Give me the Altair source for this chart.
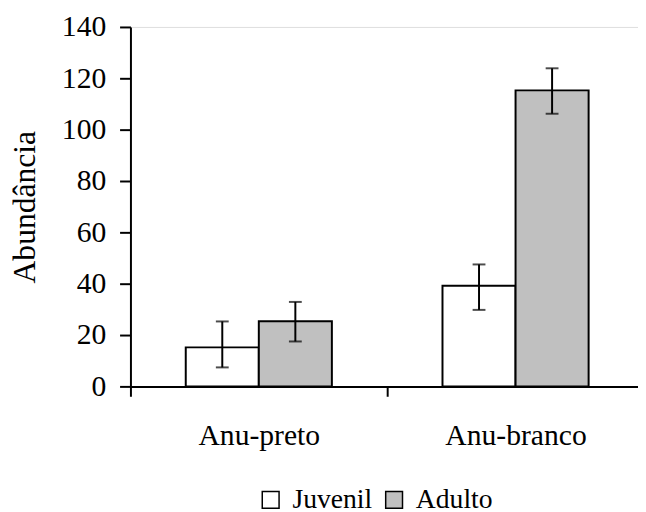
import altair as alt
import pandas as pd

especies = ["Anu-preto", "Anu-preto", "Anu-branco", "Anu-branco"]
classes = ["Juvenil", "Adulto", "Juvenil", "Adulto"]
medias = [15.2, 25.4, 39.2, 115.3]
erro_inf = [7.4, 17.5, 29.8, 106.2]
erro_sup = [25.3, 32.9, 47.5, 123.9]

ordem_especies = ["Anu-preto", "Anu-branco"]
ordem_classes = ["Juvenil", "Adulto"]
cores = ["#ffffff", "#c0c0c0"]

df = pd.DataFrame({
    "especie": especies,
    "classe": classes,
    "media": medias,
    "inf": erro_inf,
    "sup": erro_sup,
})

FONT = "Liberation Serif, Times New Roman, serif"

x_scale = alt.Scale(paddingInner=0, paddingOuter=0)
x_enc = alt.X(
    "especie:N",
    sort=ordem_especies,
    scale=x_scale,
    axis=alt.Axis(
        title=None,
        labelAngle=0,
        labelFont=FONT,
        labelFontSize=30,
        labelColor="black",
        labelPadding=25,
        tickBand="extent",
        tickSize=10,
        tickColor="black",
        tickWidth=2,
        domainColor="black",
        domainWidth=2,
        grid=False,
    ),
)
x_plain = alt.X("especie:N", sort=ordem_especies, scale=x_scale)
xoff = alt.XOffset(
    "classe:N",
    sort=ordem_classes,
    scale=alt.Scale(paddingInner=0, paddingOuter=0.757),
)

y_scale = alt.Scale(domain=[0, 140], nice=False)

bars = alt.Chart(df).mark_bar(stroke="black", strokeWidth=2).encode(
    x=x_enc,
    xOffset=xoff,
    y=alt.Y(
        "media:Q",
        scale=y_scale,
        axis=alt.Axis(
            title="Abundância",
            titleFont=FONT,
            titleFontSize=32,
            titleFontWeight="normal",
            titleColor="black",
            titlePadding=20,
            values=[0, 20, 40, 60, 80, 100, 120, 140],
            labelFont=FONT,
            labelFontSize=30,
            labelColor="black",
            labelPadding=14,
            tickSize=11,
            tickColor="black",
            tickWidth=2,
            domainColor="black",
            domainWidth=2,
            grid=False,
        ),
    ),
    fill=alt.Fill(
        "classe:N",
        sort=ordem_classes,
        scale=alt.Scale(domain=ordem_classes, range=cores),
        legend=alt.Legend(
            title=None,
            orient="none",
            direction="horizontal",
            legendX=128,
            legendY=465,
            symbolType="square",
            symbolSize=290,
            symbolStrokeColor="black",
            symbolStrokeWidth=1.5,
            labelFont=FONT,
            labelFontSize=28,
            labelColor="black",
            labelOffset=8,
            columnPadding=8,
        ),
    ),
)

linhas = alt.Chart(df).mark_rule(color="black", strokeWidth=2).encode(
    x=x_plain,
    xOffset=xoff,
    y=alt.Y("inf:Q", scale=y_scale),
    y2="sup:Q",
)

topo = alt.Chart(df).mark_tick(color="black", thickness=2, size=13, orient="horizontal").encode(
    x=x_plain,
    xOffset=xoff,
    y=alt.Y("sup:Q", scale=y_scale),
)
base = alt.Chart(df).mark_tick(color="black", thickness=2, size=13, orient="horizontal").encode(
    x=x_plain,
    xOffset=xoff,
    y=alt.Y("inf:Q", scale=y_scale),
)

chart = alt.layer(bars, linhas, topo, base).properties(
    width=520,
    height=364,
    autosize=alt.AutoSizeParams(type="none"),
    padding={"left": 124, "top": 16, "right": -6, "bottom": 124},
).configure_view(stroke=None).configure(background="white")

chart.save("out.html", embed_options={"renderer": "svg", "actions": False})
